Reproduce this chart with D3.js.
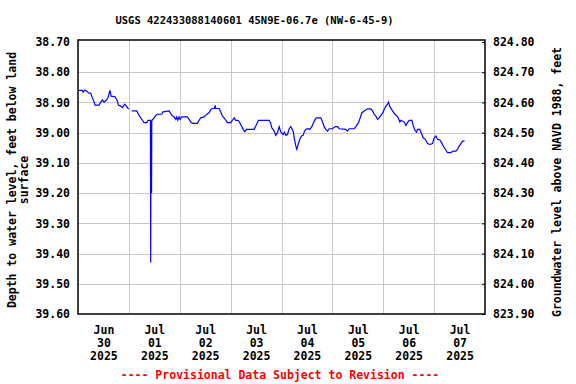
<!DOCTYPE html>
<html>
<head>
<meta charset="utf-8">
<script src="https://cdn.jsdelivr.net/npm/d3@7"></script>
<style>
  body { margin: 0; background: #fff; }
  svg text { font-family: "DejaVu Sans Mono", monospace; font-weight: bold; fill: #000; }
</style>
</head>
<body>
<div id="chart"></div>
<script>
const titleText = "USGS 422433088140601 45N9E-06.7e (NW-6-45-9)";
const leftLabel = ["Depth to water level, feet below land", "surface"];
const rightLabel = "Groundwater level above NAVD 1988, feet";
const footnote = "---- Provisional Data Subject to Revision ----";

// datum: depth 38.70 ft  <->  824.80 ft NAVD 1988
const datum = 863.50;
const depthTicks = [38.7, 38.8, 38.9, 39.0, 39.1, 39.2, 39.3, 39.4, 39.5, 39.6];
const dayLabels = ["Jun|30|2025", "Jul|01|2025", "Jul|02|2025", "Jul|03|2025",
  "Jul|04|2025", "Jul|05|2025", "Jul|06|2025", "Jul|07|2025"];

// hours after 2025-06-30 00:00 and depth below land surface (ft); null = gap
const hoursFromStart = [0.17, 2.06, 2.38, 3.00, 3.63, 4.89, 5.99, 6.78, 7.57, 8.04, 9.93, 10.71,
  11.50, 12.29, 13.39, 14.18, 14.65, 15.12, 15.59, 17.48, 18.58, 19.05, 20.15, 20.94, 22.04,
  22.83, 23.62, 24.09, 24.70, 25.35, 27.71, 28.81, 30.38, 31.17, 32.43, 33.06, 34.16, 34.30,
  34.40, 34.70, 34.80, 35.57, 36.67, 37.46, 39.51, 40.14, 42.97, 43.75, 44.54, 45.33, 46.11,
  46.58, 47.06, 47.69, 48.16, 48.95, 51.62, 52.41, 53.19, 53.98, 56.34, 57.13, 57.91, 59.49,
  60.27, 61.06, 61.85, 62.63, 63.42, 64.36, 64.68, 64.99, 66.57, 67.35, 68.14, 69.24, 70.50,
  72.07, 72.86, 73.65, 74.43, 75.53, 76.32, 77.11, 77.90, 78.68, 79.47, 83.09, 83.87, 85.13,
  90.17, 90.80, 91.42, 92.53, 93.31, 94.10, 94.89, 95.67, 96.77, 97.40, 98.03, 98.82, 99.61,
  100.39, 101.49, 102.12, 102.75, 103.22, 103.86, 104.64, 105.43, 106.21, 106.84, 107.47,
  108.58, 109.36, 110.31, 111.09, 111.88, 112.51, 114.55, 115.34, 116.13, 116.91, 117.70,
  118.49, 120.06, 121.32, 122.42, 123.21, 126.35, 127.14, 127.93, 130.29, 131.07, 132.33,
  133.12, 133.90, 135.00, 136.58, 138.15, 138.94, 139.73, 140.51, 141.30, 142.09, 142.87,
  143.66, 144.45, 145.23, 146.02, 146.49, 147.12, 148.38, 149.48, 150.27, 151.05, 151.84,
  152.31, 153.89, 154.67, 155.46, 156.25, 157.50, 158.13, 158.92, 159.71, 160.18, 161.28,
  161.91, 162.85, 163.80, 164.90, 166.00, 167.26, 168.04, 168.83, 169.62, 170.72, 171.50,
  172.29, 173.23, 174.34, 175.91, 177.01, 178.27, 179.06, 179.84, 180.63, 181.42, 182.36];
const depthValues = [38.860, 38.860, 38.866, 38.860, 38.860, 38.868, 38.870, 38.884, 38.898,
  38.909, 38.909, 38.899, 38.892, 38.899, 38.892, 38.884, 38.870, 38.860, 38.879, 38.881,
  38.895, 38.909, 38.912, 38.917, 38.906, 38.912, 38.920, 38.921, null, 38.928, 38.928,
  38.943, 38.959, 38.967, 38.967, 38.959, 38.959, 39.430, 38.960, 39.200, 38.960, 38.954,
  38.943, 38.939, 38.939, 38.931, 38.928, 38.937, 38.945, 38.947, 38.956, 38.948, 38.959,
  38.948, 38.956, 38.948, 38.948, 38.956, 38.965, 38.969, 38.969, 38.959, 38.951, 38.948,
  38.943, 38.937, 38.934, 38.923, 38.920, 38.920, 38.910, 38.920, 38.920, 38.932, 38.945,
  38.954, 38.967, 38.967, 38.959, 38.951, 38.959, 38.959, 38.967, 38.978, 38.989, 38.997,
  38.989, 38.989, 38.978, 38.959, 38.959, 38.967, 38.984, 38.995, 39.009, 39.000, 38.980,
  38.998, 39.006, 38.998, 39.009, 39.006, 38.987, 38.980, 38.995, 39.022, 39.044, 39.055,
  39.039, 39.022, 39.011, 39.009, 38.995, 38.989, 38.987, 38.989, 38.980, 38.967, 38.956,
  38.951, 38.951, 38.965, 38.980, 38.989, 38.995, 38.987, 38.987, 38.980, 38.980, 38.987,
  38.989, 38.995, 38.987, 38.987, 38.980, 38.967, 38.951, 38.934, 38.928, 38.921, 38.921,
  38.928, 38.939, 38.945, 38.956, 38.951, 38.943, 38.936, 38.923, 38.912, 38.906, 38.899,
  38.914, 38.928, 38.939, 38.943, 38.951, 38.965, 38.959, 38.965, 38.976, 38.967, 38.959,
  38.959, 38.976, 38.992, 38.998, 38.989, 38.989, 39.000, 39.017, 39.022, 39.036, 39.039,
  39.036, 39.017, 39.011, 39.022, 39.024, 39.033, 39.044, 39.055, 39.066, 39.066, 39.061,
  39.061, 39.055, 39.044, 39.036, 39.028, 39.028];

const W = 576, H = 384;
const plot = {left: 78, right: 485, top: 40, bottom: 314};
const start = new Date(2025, 5, 30);
const end = new Date(2025, 6, 8);

const data = hoursFromStart.map((h, i) => ({
  t: new Date(start.getTime() + h * 3600e3),
  d: depthValues[i]
}));

const svg = d3.select("#chart").append("svg")
  .attr("width", W).attr("height", H);

const x = d3.scaleTime().domain([start, end]).range([plot.left, plot.right]);
const y = d3.scaleLinear().domain([38.7, 39.6]).range([42, plot.bottom]);
const yRight = d3.scaleLinear().domain([datum - 38.7, datum - 39.6]).range([42, plot.bottom]);

// grid
svg.append("g").selectAll("line")
  .data(depthTicks.slice(1, -1))
  .enter().append("line")
  .attr("x1", plot.left).attr("x2", plot.right)
  .attr("y1", d => Math.round(y(d)) + 0.5).attr("y2", d => Math.round(y(d)) + 0.5)
  .attr("stroke", "#c8c8c8");

svg.append("g").selectAll("line")
  .data(d3.timeDay.range(d3.timeDay.offset(start, 1), end))
  .enter().append("line")
  .attr("x1", d => Math.round(x(d)) + 0.5).attr("x2", d => Math.round(x(d)) + 0.5)
  .attr("y1", plot.top).attr("y2", plot.bottom)
  .attr("stroke", "#c8c8c8");

// series
const line = d3.line()
  .defined(d => d.d !== null)
  .x(d => x(d.t))
  .y(d => y(d.d));

svg.append("path")
  .datum(data)
  .attr("fill", "none")
  .attr("stroke", "#0000ff")
  .attr("stroke-width", 1.2)
  .attr("d", line);

// frame
svg.append("rect")
  .attr("x", plot.left).attr("y", plot.top)
  .attr("width", plot.right - plot.left).attr("height", plot.bottom - plot.top)
  .attr("fill", "none").attr("stroke", "#000").attr("stroke-width", 1.5);

// left axis
const leftAxis = svg.append("g")
  .attr("transform", "translate(" + plot.left + ",0)")
  .call(d3.axisLeft(y).tickValues(depthTicks).tickFormat(d3.format(".2f")).tickSize(0).tickPadding(8));
leftAxis.select(".domain").remove();
leftAxis.selectAll("text").style("font-size", "11.5px");

// right axis
const rightAxis = svg.append("g")
  .attr("transform", "translate(" + plot.right + ",0)")
  .call(d3.axisRight(yRight).tickValues(depthTicks.map(d => datum - d)).tickFormat(d3.format(".2f")).tickSize(-3).tickPadding(8));
rightAxis.select(".domain").remove();
rightAxis.selectAll("line").attr("stroke", "#000");
rightAxis.selectAll("text").style("font-size", "11.5px");

// bottom axis, labels at noon
const noon = d3.range(8).map(i => new Date(2025, 5, 30 + i, 12));
const bottomAxis = svg.append("g")
  .attr("transform", "translate(0," + plot.bottom + ")")
  .call(d3.axisBottom(x).tickValues(noon).tickSize(0).tickFormat((d, i) => dayLabels[i]));
bottomAxis.select(".domain").remove();
bottomAxis.selectAll("text").each(function(d, i) {
  const parts = dayLabels[i].split("|");
  const t = d3.select(this).text(null).attr("y", 0).attr("dy", null).style("font-size", "11.5px");
  parts.forEach((p, j) => {
    t.append("tspan").attr("x", 0).attr("y", 20 + j * 13).text(p);
  });
});

// titles
svg.append("text")
  .attr("x", 254.5).attr("y", 24)
  .attr("text-anchor", "middle")
  .style("font-size", "10.5px")
  .text(titleText);

const ly = svg.append("text")
  .attr("transform", "translate(16,180) rotate(-90)")
  .attr("text-anchor", "middle")
  .style("font-size", "11.5px");
ly.append("tspan").attr("x", 0).attr("y", 0).text(leftLabel[0]);
ly.append("tspan").attr("x", 0).attr("y", 12).text(leftLabel[1]);

svg.append("text")
  .attr("transform", "translate(561,182) rotate(-90)")
  .attr("text-anchor", "middle")
  .style("font-size", "11.5px")
  .text(rightLabel);

svg.append("text")
  .attr("x", 280).attr("y", 379)
  .attr("text-anchor", "middle")
  .style("font-size", "11.5px")
  .style("fill", "#ff0000")
  .text(footnote);
</script>
</body>
</html>
